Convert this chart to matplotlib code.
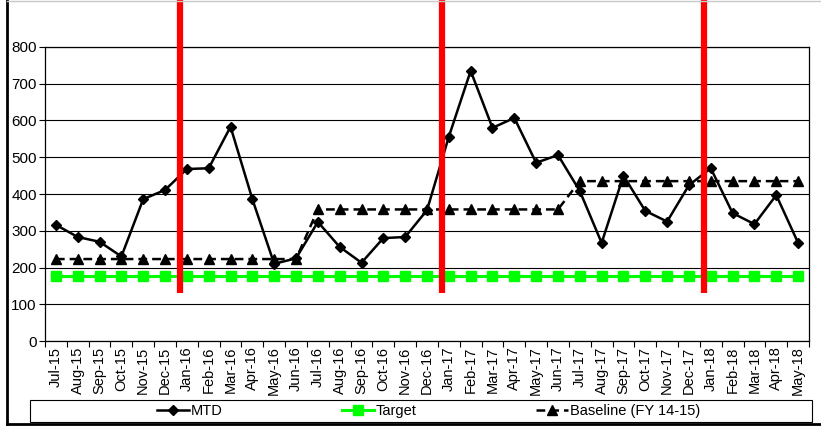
import numpy as np
import matplotlib.pyplot as plt
from matplotlib.patches import Rectangle

plt.rcParams['font.family'] = ['Liberation Sans', 'DejaVu Sans']

months = ['Jul-15', 'Aug-15', 'Sep-15', 'Oct-15', 'Nov-15', 'Dec-15',
          'Jan-16', 'Feb-16', 'Mar-16', 'Apr-16', 'May-16', 'Jun-16',
          'Jul-16', 'Aug-16', 'Sep-16', 'Oct-16', 'Nov-16', 'Dec-16',
          'Jan-17', 'Feb-17', 'Mar-17', 'Apr-17', 'May-17', 'Jun-17',
          'Jul-17', 'Aug-17', 'Sep-17', 'Oct-17', 'Nov-17', 'Dec-17',
          'Jan-18', 'Feb-18', 'Mar-18', 'Apr-18', 'May-18']

mtd = [316, 283, 270, 230, 386, 411,
       468, 470, 583, 386, 210, 225,
       324, 256, 213, 280, 283, 356,
       556, 735, 580, 607, 485, 506,
       408, 267, 450, 354, 325, 424,
       470, 348, 318, 397, 267]

target = [178] * 35

baseline = [223] * 12 + [358] * 12 + [435] * 11

# year-end markers (placed just before each January)
year_marks = [5.7, 17.7, 29.7]

fig = plt.figure(figsize=(8.21, 4.26), dpi=100)
ax = fig.add_axes([0.0548, 0.1995, 0.9306, 0.6902])

x = np.arange(len(months))

ax.plot(x, target, color='#00ff00', lw=2.2, marker='s', ms=6.5,
        mec='#00ff00', label='Target', zorder=3)
ax.plot(x, baseline, color='black', lw=1.8, ls=(0, (3.5, 2)), marker='^',
        ms=7, label='Baseline (FY 14-15)', zorder=4)
ax.plot(x, mtd, color='black', lw=1.8, marker='D', ms=5.5,
        label='MTD', zorder=5)

for xm in year_marks:
    ax.plot([xm, xm], [130, 980], color='red', lw=4.5, solid_capstyle='butt',
            clip_on=False, zorder=6)

ax.set_xlim(-0.5, len(months) - 0.5)
ax.set_ylim(0, 800)
ax.set_yticks(range(0, 801, 100))
ax.yaxis.grid(True, color='black', lw=0.8)
ax.set_axisbelow(True)

ax.set_xticks(x)
ax.set_xticklabels(months, rotation=90, fontsize=10.5)
ax.tick_params(axis='x', which='major', length=0, pad=4)
ax.set_xticks(np.arange(-0.5, len(months), 1), minor=True)
ax.tick_params(axis='x', which='minor', length=4, direction='out', width=0.8)
ax.tick_params(axis='y', labelsize=11, length=4, width=0.8, pad=2)
for s in ax.spines.values():
    s.set_linewidth(0.9)

# legend, with its own box along the bottom
h, l = ax.get_legend_handles_labels()
order = [2, 0, 1]
fig.legend([h[i] for i in order], [l[i] for i in order], ncol=3,
           loc='center', bbox_to_anchor=(0.522, 0.035), frameon=False,
           fontsize=10.5, handlelength=2.2, columnspacing=8.2,
           handletextpad=0.1)
fig.patches.append(Rectangle((0.036, 0.01), 0.953, 0.05, transform=fig.transFigure,
                             fill=False, edgecolor='black', lw=0.8))

# outer frame
fig.add_artist(plt.Line2D([0.008, 0.008], [0.0, 1.0], color='black', lw=2,
                          transform=fig.transFigure))
fig.add_artist(plt.Line2D([0.008, 1.0], [0.004, 0.004], color='black', lw=2,
                          transform=fig.transFigure))
fig.add_artist(plt.Line2D([0.008, 1.0], [0.998, 0.998], color='#c8c8c8', lw=1,
                          transform=fig.transFigure))

fig.savefig('out.png', dpi=100)
